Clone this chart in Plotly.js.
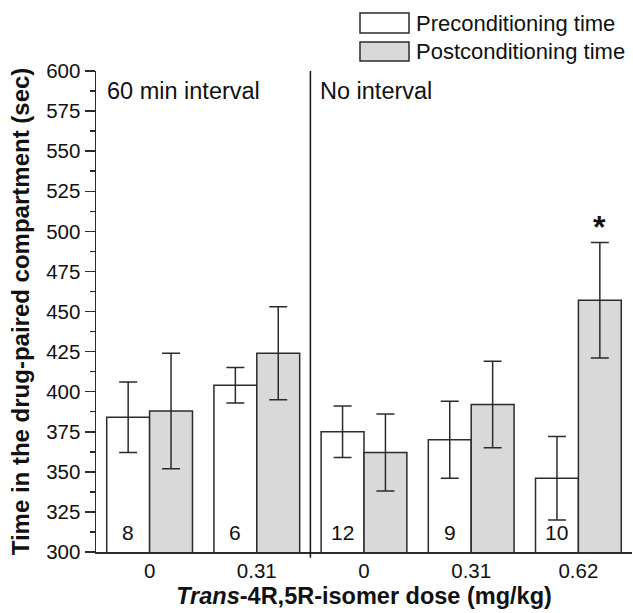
<!DOCTYPE html>
<html>
<head>
<meta charset="utf-8">
<script src="https://cdn.plot.ly/plotly-3.0.1.min.js"></script>
<style>html,body{margin:0;padding:0;background:#fff;}#chart{width:633px;height:613px;}</style>
</head>
<body>
<div id="chart"></div>
<script>
// ---- data ----
var groupIndex = [0, 1, 2, 3, 4];
var doseLabels = ['0', '0.31', '0', '0.31', '0.62'];
var preMean = [384, 404, 375, 370, 346];
var preSEM = [22, 11, 16, 24, 26];
var postMean = [388, 424, 362, 392, 457];
var postSEM = [36, 29, 24, 27, 36];
var nLabels = ['8', '6', '12', '9', '10'];
var boundaries = [0.5, 1.5, 2.5, 3.5];
var significant = [false, false, false, false, true];
var seriesNames = ['Preconditioning time', 'Postconditioning time'];
var panelLabels = ['60 min interval', 'No interval'];

var FONT = 'Liberation Sans, Arial, Helvetica, sans-serif';
var ink = '#2b2b2b';

var traces = [
  {
    type: 'bar', x: groupIndex, y: preMean, name: seriesNames[0],
    marker: {color: '#ffffff', line: {color: ink, width: 1.5}},
    error_y: {type: 'data', array: preSEM, color: ink, thickness: 1.5, width: 9},
    showlegend: false, hoverinfo: 'y'
  },
  {
    type: 'bar', x: groupIndex, y: postMean, name: seriesNames[1],
    marker: {color: '#d9d9d9', line: {color: ink, width: 1.5}},
    error_y: {type: 'data', array: postSEM, color: ink, thickness: 1.5, width: 9},
    showlegend: false, hoverinfo: 'y'
  }
];

var W = 633, H = 613, mL = 96, mR = 1, mT = 71, mB = 61;
var pw = W - mL - mR, ph = H - mT - mB;
function px2x(px) { return (px - mL) / pw; }
function px2y(py) { return (H - mB - py) / ph; }

var annotations = [];
var groupPx = pw / 5;
var barPx = groupPx * 0.8 / 2;
groupIndex.forEach(function (g, i) {
  annotations.push({
    x: g, y: 300, xref: 'x', yref: 'y', text: nLabels[i], showarrow: false,
    xshift: -barPx / 2, yshift: 6, yanchor: 'bottom',
    font: {family: FONT, size: 21, color: '#111'}
  });
  if (significant[i]) {
    annotations.push({
      x: g, y: postMean[i] + postSEM[i], xref: 'x', yref: 'y', text: '<b>*</b>', showarrow: false,
      xshift: barPx / 2, yshift: -4, yanchor: 'bottom',
      font: {family: FONT, size: 32, color: '#111'}
    });
  }
});
// panel labels
annotations.push({x: px2x(105), y: px2y(91), xref: 'paper', yref: 'paper', xanchor: 'left', yanchor: 'middle',
  text: panelLabels[0], showarrow: false, font: {family: FONT, size: 23.5, color: '#111'}});
annotations.push({x: px2x(318), y: px2y(91), xref: 'paper', yref: 'paper', xanchor: 'left', yanchor: 'middle',
  text: panelLabels[1], showarrow: false, font: {family: FONT, size: 23.5, color: '#111'}});
// legend texts
annotations.push({x: px2x(414), y: px2y(23), xref: 'paper', yref: 'paper', xanchor: 'left', yanchor: 'middle',
  text: seriesNames[0], showarrow: false, font: {family: FONT, size: 22, color: '#111'}});
annotations.push({x: px2x(414), y: px2y(51), xref: 'paper', yref: 'paper', xanchor: 'left', yanchor: 'middle',
  text: seriesNames[1], showarrow: false, font: {family: FONT, size: 22, color: '#111'}});

var shapes = [
  {type: 'line', xref: 'x', yref: 'paper', x0: 1.5, x1: 1.5, y0: -0.012, y1: 1, line: {color: '#111', width: 1.5}},
  {type: 'rect', xref: 'paper', yref: 'paper', x0: px2x(360), x1: px2x(409), y0: px2y(33), y1: px2y(13),
   fillcolor: '#ffffff', line: {color: ink, width: 1.5}},
  {type: 'rect', xref: 'paper', yref: 'paper', x0: px2x(360), x1: px2x(409), y0: px2y(61), y1: px2y(42),
   fillcolor: '#d9d9d9', line: {color: ink, width: 1.5}}
];

var layout = {
  width: W, height: H,
  margin: {l: mL, r: mR, t: mT, b: mB, pad: 0},
  paper_bgcolor: '#fff', plot_bgcolor: '#fff',
  barmode: 'group', bargap: 0.2, bargroupgap: 0,
  showlegend: false,
  font: {family: FONT, color: '#111'},
  xaxis: {
    range: [-0.5, 4.5], tickmode: 'array', tickvals: groupIndex, ticktext: doseLabels,
    ticks: '', showline: true, linecolor: ink, linewidth: 1.5, showgrid: false, zeroline: false,
    tickfont: {family: FONT, size: 20.5, color: '#111'},
    title: {text: '<b><i>Trans</i>-4R,5R-isomer dose (mg/kg)</b>', font: {family: FONT, size: 23.5, color: '#111'}, standoff: 6},
    automargin: false, fixedrange: true
  },
  xaxis2: {
    overlaying: 'x', matches: 'x', range: [-0.5, 4.5], tickmode: 'array', tickvals: boundaries,
    ticks: 'outside', ticklen: 5, tickwidth: 1.5, tickcolor: ink, showticklabels: false,
    showline: false, showgrid: false, zeroline: false, automargin: false
  },
  xaxis3: {
    overlaying: 'x', matches: 'x', range: [-0.5, 4.5], tickmode: 'array', tickvals: boundaries,
    ticks: 'inside', ticklen: 5, tickwidth: 1.5, tickcolor: ink, showticklabels: false,
    showline: false, showgrid: false, zeroline: false, automargin: false
  },
  yaxis: {
    range: [300, 600], dtick: 25, tick0: 300, ticks: 'outside', ticklen: 10, tickwidth: 1.5, tickcolor: ink,
    minor: {dtick: 12.5, tick0: 300, ticks: 'outside', ticklen: 5, tickwidth: 1.5, tickcolor: ink},
    showline: true, linecolor: ink, linewidth: 1.5, showgrid: false, zeroline: false,
    tickfont: {family: FONT, size: 20.5, color: '#111'},
    title: {text: '<b>Time in the drug-paired compartment (sec)</b>', font: {family: FONT, size: 24, color: '#111'}, standoff: 10},
    automargin: false, fixedrange: true
  },
  yaxis2: {
    overlaying: 'y', matches: 'y', side: 'right', range: [300, 600], dtick: 25, tick0: 300,
    ticks: 'inside', ticklen: 8, tickwidth: 1.5, tickcolor: ink,
    minor: {dtick: 12.5, tick0: 300, ticks: 'inside', ticklen: 8, tickwidth: 1.5, tickcolor: ink},
    showticklabels: false, showline: true, linecolor: ink, linewidth: 1.5, showgrid: false, zeroline: false,
    automargin: false
  },
  annotations: annotations,
  shapes: shapes
};

Plotly.newPlot('chart', traces, layout, {displayModeBar: false, staticPlot: true});
</script>
</body>
</html>
